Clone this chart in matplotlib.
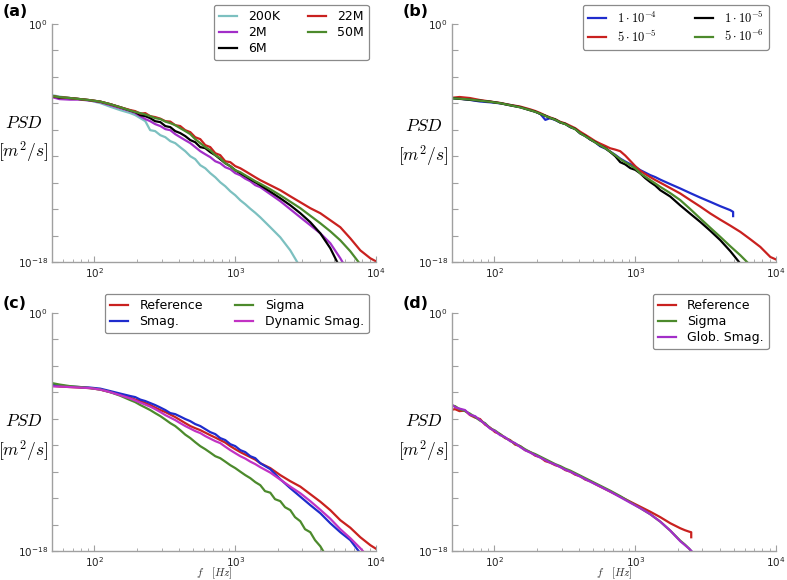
import numpy as np
import matplotlib
matplotlib.use("Agg")
import matplotlib.pyplot as plt
from matplotlib.ticker import LogLocator, NullLocator
from matplotlib.font_manager import FontProperties

# ---------------- data (frequency in Hz, PSD given as log10 values) ----------------
freq = [50, 56.5, 67, 79, 93, 110, 129, 152, 180, 195, 212, 230, 249, 270, 294, 319,
        346, 375, 407, 442, 480, 520, 565, 613, 665, 722, 783, 850, 923, 1001, 1087,
        1179, 1280, 1389, 1507, 1775, 2090, 2462, 2900, 3415, 4022, 4737, 5579, 6571,
        7739, 9115, 10000]

# panel (a): grid resolution
a_labels = ["200K", "2M", "6M", "22M", "50M"]
a_200k = [-5.38, -5.49, -5.60, -5.68, -5.79, -5.98, -6.25, -6.51, -6.74, -6.89,
          -7.12, -7.35, -8.03, -8.10, -8.41, -8.56, -8.86, -9.01, -9.32, -9.62,
          -10.00, -10.22, -10.68, -10.91, -11.28, -11.59, -11.97, -12.27, -12.65, -12.95,
          -13.33, -13.63, -13.97, -14.28, -14.62, -15.37, -16.13, -17.12, -18.40]
a_2m = [-5.53, -5.68, -5.72, -5.72, -5.79, -5.91, -6.13, -6.36, -6.59, -6.74,
        -6.97, -7.19, -7.35, -7.57, -7.72, -7.95, -8.03, -8.33, -8.56, -8.79,
        -9.01, -9.31, -9.62, -9.85, -10.07, -10.38, -10.53, -10.83, -10.98, -11.28,
        -11.44, -11.70, -11.89, -12.19, -12.34, -12.87, -13.40, -14.01, -14.62, -15.22,
        -15.83, -16.58, -17.72, -19.01]
a_6m = [-5.45, -5.57, -5.60, -5.68, -5.76, -5.87, -6.06, -6.29, -6.55, -6.66,
        -6.89, -6.97, -7.12, -7.35, -7.42, -7.72, -7.80, -8.10, -8.25, -8.48,
        -8.78, -8.94, -9.31, -9.39, -9.69, -9.92, -10.22, -10.53, -10.75, -11.06,
        -11.28, -11.51, -11.74, -11.97, -12.19, -12.68, -13.18, -13.71, -14.31, -14.99,
        -15.83, -16.96, -18.48]
a_22m = [-5.45, -5.53, -5.60, -5.68, -5.76, -5.87, -6.06, -6.29, -6.51, -6.59,
         -6.78, -6.74, -6.97, -7.04, -7.16, -7.35, -7.38, -7.65, -7.72, -8.03,
         -8.18, -8.56, -8.71, -9.16, -9.31, -9.77, -9.92, -10.38, -10.45, -10.75,
         -10.91, -11.13, -11.36, -11.59, -11.81, -12.19, -12.57, -13.03, -13.48, -13.93,
         -14.31, -14.84, -15.37, -16.21, -17.12, -17.72, -17.95]
a_50m = [-5.45, -5.53, -5.60, -5.68, -5.76, -5.87, -6.06, -6.29, -6.55, -6.66,
         -6.74, -6.85, -6.97, -7.12, -7.19, -7.38, -7.50, -7.65, -7.88, -8.10,
         -8.33, -8.71, -9.01, -9.31, -9.54, -9.92, -10.15, -10.53, -10.75, -11.06,
         -11.21, -11.44, -11.66, -11.89, -12.08, -12.50, -12.95, -13.44, -13.93, -14.50,
         -15.07, -15.68, -16.36, -17.19, -18.18]

# panel (b): time step
b_labels = [r"$1\cdot10^{-4}$", r"$5\cdot10^{-5}$", r"$1\cdot10^{-5}$", r"$5\cdot10^{-6}$"]
b_freq_1e4 = [50, 56.5, 67, 79, 93, 110, 129, 152, 180, 195, 212, 230, 249, 270, 294, 319,
              346, 375, 407, 442, 480, 520, 565, 613, 665, 722, 783, 850, 923, 1001, 1087,
              1179, 1280, 1389, 1507, 1775, 2090, 2462, 2900, 3415, 4022, 4737, 4960, 4960]
b_1e4 = [-5.60, -5.64, -5.74, -5.86, -5.92, -6.00, -6.12, -6.28, -6.50, -6.63,
         -6.80, -7.25, -7.12, -7.26, -7.45, -7.55, -7.80, -7.93, -8.27, -8.47,
         -8.73, -8.95, -9.25, -9.42, -9.65, -9.90, -10.18, -10.40, -10.60, -10.80,
         -11.05, -11.24, -11.43, -11.58, -11.77, -12.11, -12.44, -12.79, -13.13, -13.45,
         -13.78, -14.08, -14.21, -14.53]
b_5e5 = [-5.58, -5.52, -5.60, -5.75, -5.86, -5.97, -6.12, -6.24, -6.46, -6.58,
         -6.74, -6.92, -7.07, -7.20, -7.40, -7.52, -7.70, -7.88, -8.15, -8.38,
         -8.62, -8.86, -9.05, -9.22, -9.40, -9.50, -9.62, -9.95, -10.35, -10.75,
         -11.10, -11.35, -11.58, -11.80, -12.00, -12.41, -12.82, -13.32, -13.81, -14.33,
         -14.80, -15.25, -15.72, -16.28, -16.86, -17.62, -17.81]
b_1e5 = [-5.61, -5.66, -5.73, -5.80, -5.87, -5.99, -6.15, -6.29, -6.53, -6.63,
         -6.80, -6.94, -7.11, -7.22, -7.45, -7.56, -7.79, -7.94, -8.27, -8.46,
         -8.74, -8.93, -9.20, -9.38, -9.68, -10.00, -10.45, -10.62, -10.90, -11.03,
         -11.30, -11.66, -11.96, -12.22, -12.57, -13.05, -13.72, -14.35, -14.97, -15.64,
         -16.35, -17.18, -18.12]
b_5e6 = [-5.62, -5.65, -5.71, -5.80, -5.88, -5.99, -6.14, -6.30, -6.52, -6.64,
         -6.79, -6.95, -7.10, -7.24, -7.44, -7.58, -7.78, -7.96, -8.26, -8.49,
         -8.72, -8.96, -9.18, -9.40, -9.66, -9.93, -10.22, -10.46, -10.68, -10.92,
         -11.30, -11.55, -11.81, -12.06, -12.32, -12.79, -13.32, -14.00, -14.71, -15.41,
         -16.10, -16.81, -17.49, -18.25]

# panel (c): SGS models
c_labels = ["Reference", "Smag.", "Sigma", "Dynamic Smag."]
c_reference = [-5.50, -5.56, -5.60, -5.64, -5.68, -5.79, -5.98, -6.17, -6.40, -6.55,
               -6.66, -6.81, -6.96, -7.15, -7.34, -7.49, -7.68, -7.87, -8.10, -8.33,
               -8.55, -8.71, -8.86, -9.05, -9.24, -9.42, -9.61, -9.80, -10.07, -10.30,
               -10.52, -10.71, -10.90, -11.09, -11.36, -11.73, -12.26, -12.72, -13.13, -13.70,
               -14.27, -14.91, -15.67, -16.24, -16.96, -17.56, -17.83]
c_smag = [-5.43, -5.49, -5.56, -5.60, -5.64, -5.72, -5.90, -6.09, -6.28, -6.36,
          -6.55, -6.66, -6.81, -6.96, -7.15, -7.34, -7.57, -7.65, -7.83, -8.02,
          -8.18, -8.40, -8.55, -8.78, -9.01, -9.16, -9.46, -9.61, -9.92, -10.07,
          -10.37, -10.52, -10.83, -10.98, -11.36, -11.81, -12.57, -13.25, -13.89, -14.53,
          -15.14, -15.90, -16.58, -17.18, -18.17]
c_freq_sigma = [50, 56.5, 67, 79, 93, 110, 129, 152, 180, 195, 212, 230, 249, 270, 294, 319,
                346, 375, 407, 442, 480, 520, 565, 613, 665, 722, 783, 850, 923, 1001, 1087,
                1179, 1280, 1389, 1507, 1628, 1775, 1918, 2090, 2259, 2462, 2660, 2900, 3132,
                3415, 3690, 4022, 4345]
c_sigma = [-5.30, -5.41, -5.53, -5.60, -5.68, -5.79, -5.98, -6.25, -6.59, -6.74,
           -6.96, -7.15, -7.34, -7.57, -7.80, -8.06, -8.33, -8.55, -8.86, -9.20,
           -9.46, -9.77, -10.07, -10.30, -10.56, -10.83, -10.98, -11.24, -11.51, -11.73,
           -12.00, -12.26, -12.49, -12.79, -13.02, -13.47, -13.59, -14.08, -14.23, -14.69,
           -14.91, -15.44, -15.75, -16.35, -16.58, -17.18, -17.64, -18.24]
c_dynsmag = [-5.55, -5.56, -5.60, -5.64, -5.68, -5.79, -5.98, -6.21, -6.47, -6.62,
             -6.78, -6.93, -7.08, -7.27, -7.49, -7.72, -7.91, -8.10, -8.33, -8.55,
             -8.74, -8.93, -9.08, -9.31, -9.50, -9.69, -9.84, -10.11, -10.37, -10.60,
             -10.83, -11.01, -11.24, -11.43, -11.66, -12.07, -12.60, -13.13, -13.63, -14.23,
             -14.88, -15.56, -16.35, -17.03, -17.79, -18.62]

# panel (d)
d_labels = ["Reference", "Sigma", "Glob. Smag."]
d_freq = [50, 52.5, 56.5, 61.8, 67.1, 72.9, 79.1, 85.8, 93.2, 101.1, 109.8, 119.0, 129.4,
          140.2, 152.5, 165.0, 179.7, 195, 211.7, 229.7, 249.3, 270.5, 293.6, 318.6, 345.8,
          375.3, 407.3, 442, 479.6, 520.5, 564.8, 665.2, 783.4, 922.6, 1087, 1280, 1507,
          1775, 2090, 2259, 2420, 2500]
d_freq_ref = d_freq + [2500]
d_reference = [-7.32, -7.27, -7.42, -7.38, -7.72, -7.91, -8.02, -8.44, -8.67, -9.01,
               -9.16, -9.46, -9.61, -9.95, -10.07, -10.37, -10.52, -10.79, -10.90, -11.20,
               -11.32, -11.51, -11.62, -11.88, -12.00, -12.23, -12.34, -12.60, -12.72, -12.94,
               -13.13, -13.51, -13.89, -14.27, -14.65, -15.03, -15.44, -15.90, -16.28, -16.43,
               -16.54, -16.58, -16.96]
d_sigma = [-7.00, -7.04, -7.27, -7.42, -7.61, -7.87, -8.14, -8.33, -8.71, -8.89,
           -9.16, -9.42, -9.65, -9.88, -10.07, -10.30, -10.52, -10.67, -10.86, -11.05,
           -11.24, -11.43, -11.58, -11.77, -11.92, -12.11, -12.30, -12.49, -12.68, -12.87,
           -13.06, -13.44, -13.85, -14.31, -14.76, -15.22, -15.78, -16.46, -17.22, -17.52,
           -17.83, -18.02]
d_globsmag = [-6.94, -7.12, -7.23, -7.34, -7.70, -7.80, -8.10, -8.40, -8.74, -8.93,
              -9.24, -9.39, -9.69, -9.84, -10.14, -10.37, -10.56, -10.75, -10.94, -11.13,
              -11.32, -11.47, -11.66, -11.85, -12.00, -12.19, -12.38, -12.57, -12.76, -12.94,
              -13.13, -13.51, -13.93, -14.35, -14.76, -15.22, -15.78, -16.46, -17.26, -17.56,
              -17.83, -17.98]

# ---------------- styling ----------------
CYAN = "#7cc0c0"
PURPLE = "#a22ec8"
MAGENTA = "#c232c4"
RED = "#c9211f"
GREEN = "#4c8a2c"
BLUE = "#1f2ccd"
BLACK = "#000000"
SPINE = "#a0a0a0"
LW = 1.6

fig = plt.figure(figsize=(7.87, 5.80), dpi=100)
W, H = 787.0, 580.0


def make_ax(left, top, right, bottom):
    return fig.add_axes([left / W, 1 - bottom / H, (right - left) / W, (bottom - top) / H])


ax_a = make_ax(52, 24, 376, 262)
ax_b = make_ax(452, 24, 776, 262)
ax_c = make_ax(52, 313, 376, 551)
ax_d = make_ax(452, 313, 776, 551)


def curve(ax, f, logv, color, label):
    f = np.asarray(f[:len(logv)], dtype=float)
    v = np.power(10.0, np.asarray(logv, dtype=float))
    ax.plot(f, v, color=color, lw=LW, label=label, solid_joinstyle="round")


def style(ax, label_y, xlabel):
    ax.set_xscale("log")
    ax.set_yscale("log")
    ax.set_xlim(50, 1e4)
    ax.set_ylim(1e-18, 1)
    for s in ["top", "right"]:
        ax.spines[s].set_visible(False)
    for s in ["left", "bottom"]:
        ax.spines[s].set_color(SPINE)
        ax.spines[s].set_linewidth(1.0)
    ax.set_yticks([10.0 ** k for k in range(-18, 1, 2)])
    ax.set_yticklabels([r"$10^{-18}$"] + [""] * 8 + [r"$10^{0}$"])
    ax.yaxis.set_minor_locator(NullLocator())
    ax.set_xticks([1e2, 1e3, 1e4])
    ax.set_xticklabels([r"$10^{2}$", r"$10^{3}$", r"$10^{4}$"])
    ax.xaxis.set_minor_locator(LogLocator(base=10, subs=np.arange(2, 10)))
    ax.tick_params(which="both", direction="in", color=SPINE, labelsize=7.5,
                   labelcolor="#222222", top=False, right=False)
    ax.tick_params(which="major", length=4, width=0.8, pad=3)
    ax.tick_params(which="minor", length=2, width=0.6)
    ax.text(-0.088, label_y, "$PSD$\n$[m^2/s]$", transform=ax.transAxes,
            ha="center", va="center", fontsize=12.5, math_fontfamily="cm",
            linespacing=1.45)
    if xlabel:
        ax.text(0.5, -0.095, r"$f\quad[Hz]$", transform=ax.transAxes, ha="center",
                va="center", fontsize=8, math_fontfamily="cm", color="#333333")


def legend(ax, ncol, colsp, prop=None):
    kw = dict(loc="upper right", bbox_to_anchor=(0.978, 1.08), ncol=ncol,
              handlelength=1.45, handletextpad=0.9, columnspacing=colsp,
              labelspacing=0.25, borderpad=0.4, borderaxespad=0, fancybox=True,
              framealpha=1, edgecolor="#8a8a8a")
    if prop is None:
        kw["fontsize"] = 9
    else:
        kw["prop"] = prop
    leg = ax.legend(**kw)
    leg.get_frame().set_linewidth(0.9)
    return leg


# (a)
curve(ax_a, freq, a_200k, CYAN, a_labels[0])
curve(ax_a, freq, a_2m, PURPLE, a_labels[1])
curve(ax_a, freq, a_6m, BLACK, a_labels[2])
curve(ax_a, freq, a_22m, RED, a_labels[3])
curve(ax_a, freq, a_50m, GREEN, a_labels[4])
style(ax_a, 0.515, False)
legend(ax_a, 2, 2.2)

# (b)
curve(ax_b, b_freq_1e4, b_1e4, BLUE, b_labels[0])
curve(ax_b, freq, b_5e5, RED, b_labels[1])
curve(ax_b, freq, b_1e5, BLACK, b_labels[2])
curve(ax_b, freq, b_5e6, GREEN, b_labels[3])
style(ax_b, 0.5, False)
legend(ax_b, 2, 3.0, FontProperties(size=9, math_fontfamily="cm"))

# (c)
curve(ax_c, freq, c_reference, RED, c_labels[0])
curve(ax_c, freq, c_smag, BLUE, c_labels[1])
curve(ax_c, c_freq_sigma, c_sigma, GREEN, c_labels[2])
curve(ax_c, freq, c_dynsmag, MAGENTA, c_labels[3])
style(ax_c, 0.475, True)
legend(ax_c, 2, 2.6)

# (d)
curve(ax_d, d_freq_ref, d_reference, RED, d_labels[0])
curve(ax_d, d_freq, d_sigma, GREEN, d_labels[1])
curve(ax_d, d_freq, d_globsmag, PURPLE, d_labels[2])
style(ax_d, 0.475, True)
legend(ax_d, 1, 2.0)

# panel letters
for txt, x, y in [("(a)", 3, 12), ("(b)", 403, 12), ("(c)", 3, 303), ("(d)", 403, 303)]:
    fig.text(x / W, 1 - y / H, txt, fontsize=11.5, fontweight="bold", ha="left", va="center")

fig.savefig("out.png", dpi=100)
